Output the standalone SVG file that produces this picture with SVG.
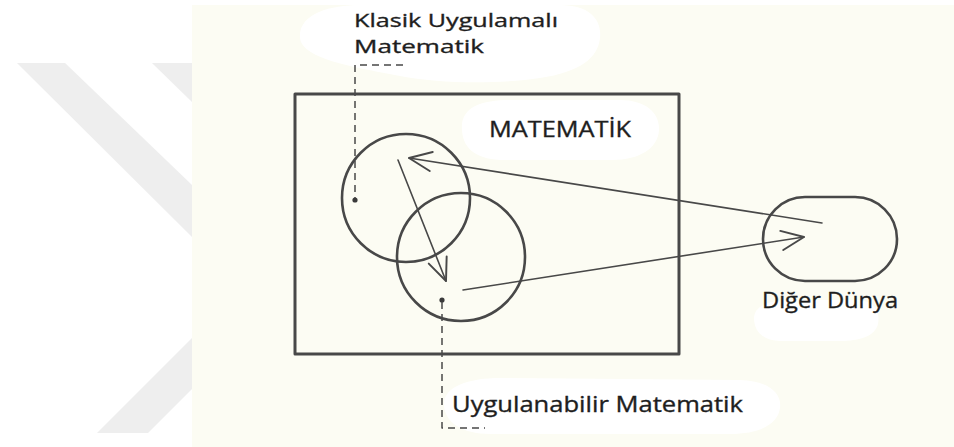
<svg xmlns="http://www.w3.org/2000/svg" width="954" height="447" viewBox="0 0 954 447">
  <defs>
    <style>
      .ln { fill: none; stroke: #484848; stroke-linecap: round; stroke-linejoin: round; }
      .frame { stroke-width: 3; }
      .circ { stroke-width: 2.6; }
      .arr { stroke-width: 1.6; }
      .dash { stroke-width: 1.5; stroke-dasharray: 7 5; stroke-linecap: butt; }
      .lbl { font-family: "Open Sans", "Noto Sans", sans-serif; font-size: 22px; fill: #1e1e1e; stroke: #1e1e1e; stroke-width: 0.35px; }
      .sm { font-size: 19px; }
      .blob { fill: #ffffff; }
      .wm { fill: #eeeeee; }
    </style>
    <marker id="vhead" markerUnits="userSpaceOnUse" markerWidth="30" markerHeight="30" viewBox="-24 -12 28 24" refX="0" refY="0" orient="auto">
      <path d="M-21,-9 L0,0 L-21,9" fill="none" stroke="#484848" stroke-width="1.8" stroke-linecap="round" stroke-linejoin="round"/>
    </marker>
  </defs>

  <!-- page background -->
  <rect x="0" y="0" width="954" height="447" fill="#ffffff"/>
  <!-- watermark chevrons -->
  <g id="watermark">
    <polygon class="wm" points="17,63 65,63 192,185 192,237"/>
    <polygon class="wm" points="152,63 192,63 192,102"/>
    <polygon class="wm" points="97,433 148,433 192,389 192,338"/>
  </g>
  <!-- scanned page area -->
  <rect x="192" y="5" width="762" height="442" fill="#fcfcf3"/>

  <!-- erased label backgrounds -->
  <path class="blob" d="M300,38 C298,14 330,5 360,5 L560,5 C592,5 602,22 600,38 C598,58 580,72 540,78 C500,84 440,84 400,76 C360,68 302,60 300,38 Z"/>
  <path class="blob" d="M462,130 C460,108 480,100 510,100 L620,100 C648,100 660,115 659,130 C658,148 640,160 612,160 L505,160 C478,160 463,150 462,130 Z"/>
  <path class="blob" d="M444,404 C444,386 470,378 500,378 L740,380 C770,381 782,394 780,408 C778,424 760,434 730,434 L490,434 C462,434 444,422 444,404 Z"/>
  <path class="blob" d="M754,318 C754,306 770,300 790,300 L860,300 C876,302 880,314 878,324 C875,336 860,341 840,341 L780,341 C764,341 754,332 754,318 Z"/>

  <!-- MATEMATİK frame -->
  <g id="matematik">
    <rect class="ln frame" x="295" y="94" width="384" height="260"/>
    <text class="lbl" x="489" y="137" textLength="142" lengthAdjust="spacingAndGlyphs">MATEMATİK</text>
  </g>

  <!-- Klasik Uygulamalı Matematik -->
  <g id="klasik">
    <circle class="ln circ" cx="406" cy="198" r="64"/>
    <circle cx="355" cy="200" r="2.6" fill="#3a3a3a"/>
    <text class="lbl sm" x="354" y="27" textLength="204" lengthAdjust="spacingAndGlyphs">Klasik Uygulamalı</text>
    <text class="lbl sm" x="354" y="53" textLength="130" lengthAdjust="spacingAndGlyphs">Matematik</text>
  </g>

  <!-- Uygulanabilir Matematik -->
  <g id="uygulanabilir">
    <circle class="ln circ" cx="461" cy="257" r="64"/>
    <circle cx="442" cy="300" r="2.6" fill="#3a3a3a"/>
    <text class="lbl" x="452" y="412" textLength="291" lengthAdjust="spacingAndGlyphs">Uygulanabilir Matematik</text>
  </g>

  <!-- Diğer Dünya -->
  <g id="diger-dunya">
    <rect class="ln circ" x="763" y="197" width="134" height="84" rx="42" ry="42"/>
    <text class="lbl" x="762" y="308" textLength="136" lengthAdjust="spacingAndGlyphs">Diğer Dünya</text>
  </g>

  <!-- connectors -->
  <g id="connectors">
    <polyline class="ln dash" points="403,65 355,65 355,198"/>
    <polyline class="ln dash" points="442,302 442,428 485,428"/>
    <line class="ln arr" x1="398" y1="160" x2="446" y2="281" marker-end="url(#vhead)"/>
    <line class="ln arr" x1="822" y1="223" x2="409" y2="158" marker-end="url(#vhead)"/>
    <line class="ln arr" x1="463" y1="290" x2="804" y2="237" marker-end="url(#vhead)"/>
  </g>
</svg>
